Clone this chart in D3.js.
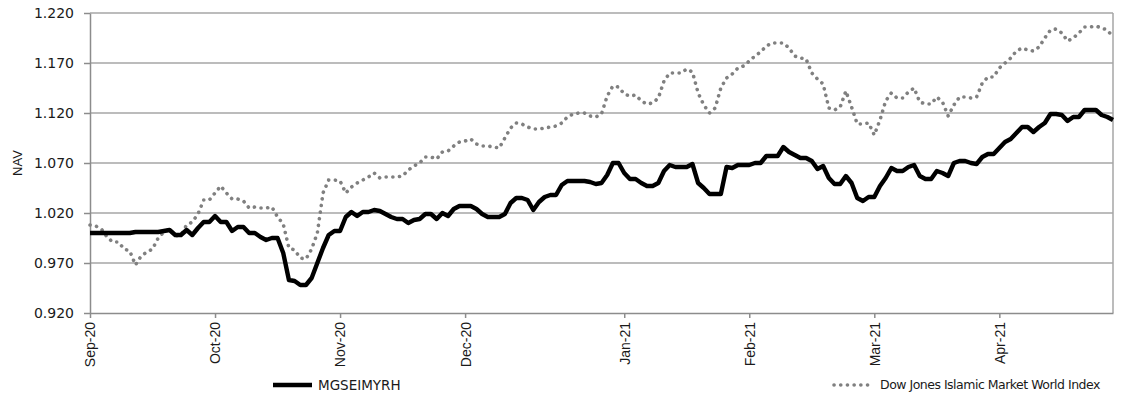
<!DOCTYPE html>
<html><head><meta charset="utf-8">
<script src="https://cdn.jsdelivr.net/npm/d3@7"></script>
<style>
html,body{margin:0;padding:0;background:#fff;}
svg{display:block;}
</style></head>
<body><svg id="chart" width="1122" height="396"></svg>
<script>
// ---- data ----
const seriesNames = ["MGSEIMYRH", "Dow Jones Islamic Market World Index"];
const fundNAV = [
1.000,1.000,1.000,1.000,1.000,1.000,1.000,1.000,1.001,1.001,
1.001,1.001,1.001,1.002,1.003,0.998,0.998,1.003,0.998,1.005,
1.011,1.011,1.017,1.011,1.011,1.002,1.006,1.006,1.000,1.000,
0.996,0.993,0.995,0.995,0.980,0.953,0.952,0.948,0.948,0.955,
0.970,0.985,0.998,1.002,1.002,1.016,1.021,1.017,1.021,1.021,
1.023,1.022,1.019,1.016,1.014,1.014,1.010,1.013,1.014,1.019,
1.019,1.014,1.020,1.017,1.024,1.027,1.027,1.027,1.024,1.019,
1.016,1.016,1.016,1.019,1.030,1.035,1.035,1.033,1.023,1.031,
1.036,1.038,1.038,1.048,1.052,1.052,1.052,1.052,1.051,1.049,
1.050,1.058,1.070,1.070,1.060,1.054,1.054,1.050,1.047,1.047,
1.050,1.062,1.068,1.066,1.066,1.066,1.069,1.050,1.045,1.039,
1.039,1.039,1.066,1.065,1.068,1.068,1.068,1.070,1.070,1.077,
1.077,1.077,1.086,1.081,1.078,1.075,1.075,1.072,1.064,1.067,
1.055,1.049,1.049,1.057,1.050,1.035,1.032,1.036,1.036,1.047,
1.055,1.065,1.062,1.062,1.066,1.068,1.057,1.054,1.054,1.062,
1.060,1.057,1.070,1.072,1.072,1.070,1.069,1.076,1.079,1.079,
1.085,1.091,1.094,1.100,1.106,1.106,1.101,1.106,1.110,1.119,
1.119,1.118,1.112,1.116,1.116,1.123,1.123,1.123,1.118,1.116,
1.113];
const indexNAV = [
1.008,1.007,1.004,0.996,0.991,0.991,0.984,0.982,0.968,0.977,
0.981,0.984,0.995,1.001,1.004,0.997,0.998,1.008,1.011,1.019,
1.033,1.033,1.040,1.047,1.040,1.034,1.034,1.032,1.025,1.026,
1.025,1.025,1.026,1.016,1.009,0.985,0.983,0.975,0.974,0.984,
1.000,1.040,1.053,1.053,1.052,1.040,1.046,1.050,1.053,1.056,
1.060,1.055,1.056,1.056,1.056,1.057,1.063,1.067,1.070,1.076,
1.076,1.074,1.081,1.082,1.087,1.091,1.092,1.094,1.089,1.087,
1.087,1.086,1.085,1.095,1.105,1.110,1.109,1.106,1.104,1.104,
1.105,1.106,1.107,1.110,1.116,1.119,1.120,1.120,1.117,1.116,
1.119,1.137,1.147,1.146,1.139,1.137,1.138,1.132,1.129,1.130,
1.135,1.152,1.160,1.160,1.160,1.164,1.161,1.140,1.128,1.120,
1.125,1.145,1.155,1.159,1.165,1.167,1.172,1.177,1.181,1.187,
1.190,1.190,1.190,1.185,1.177,1.175,1.174,1.160,1.154,1.149,
1.125,1.123,1.126,1.142,1.126,1.109,1.109,1.110,1.098,1.113,
1.132,1.140,1.135,1.135,1.141,1.145,1.131,1.129,1.129,1.136,
1.131,1.117,1.128,1.136,1.136,1.135,1.136,1.150,1.156,1.156,
1.165,1.170,1.175,1.182,1.185,1.183,1.182,1.186,1.195,1.203,
1.204,1.200,1.192,1.195,1.200,1.206,1.206,1.207,1.205,1.203,
1.196];
const monthTickIndex = [0, 22, 44, 66, 94, 116, 138, 160];
const monthTickLabels = ["Sep-20","Oct-20","Nov-20","Dec-20","Jan-21","Feb-21","Mar-21","Apr-21"];
const yTickValues = [0.920, 0.970, 1.020, 1.070, 1.120, 1.170, 1.220];
const yAxisTitle = "NAV";

// ---- layout ----
const svg = d3.select("#chart");
const L = 90, R = 1113, T = 13, B = 313;
const n = fundNAV.length;
const x = d3.scaleLinear().domain([0, n - 1]).range([L, R]);
const y = d3.scaleLinear().domain([0.92, 1.22]).range([B, T]);
const gridColor = "#a6a6a6";
const axisColor = "#8c8c8c";
const textColor = "#1a1a1a";

// gridlines
svg.append("g").selectAll("line").data(yTickValues.slice(1)).join("line")
  .attr("x1", L).attr("x2", R)
  .attr("y1", d => y(d)).attr("y2", d => y(d))
  .attr("stroke", gridColor).attr("stroke-width", 1.5);
// right border
svg.append("line").attr("x1", R).attr("x2", R).attr("y1", T).attr("y2", B)
  .attr("stroke", gridColor).attr("stroke-width", 1.5);

// y axis
const yAxis = svg.append("g").attr("transform", `translate(${L},0)`)
  .call(d3.axisLeft(y).tickValues(yTickValues).tickFormat(d3.format(".3f")).tickSize(6).tickSizeOuter(0).tickPadding(10));
yAxis.select(".domain").attr("stroke", axisColor).attr("stroke-width", 1.5);
yAxis.selectAll(".tick line").attr("stroke", axisColor).attr("stroke-width", 1.5);
yAxis.selectAll(".tick text").attr("font-family", "DejaVu Sans, Verdana, sans-serif")
  .attr("font-size", 14).attr("fill", textColor);

// x axis
const xAxis = svg.append("g").attr("transform", `translate(0,${B})`)
  .call(d3.axisBottom(x).tickValues(monthTickIndex)
    .tickFormat((d, i) => monthTickLabels[i]).tickSize(5).tickSizeOuter(0));
xAxis.select(".domain").attr("stroke", axisColor).attr("stroke-width", 1.5);
xAxis.selectAll(".tick line").attr("stroke", axisColor).attr("stroke-width", 1.5);
xAxis.selectAll(".tick text")
  .attr("font-family", "Liberation Sans Narrow, Arial Narrow, sans-serif")
  .attr("font-size", 14).attr("fill", textColor)
  .attr("text-anchor", "end")
  .attr("transform", "translate(0,9) rotate(-90)")
  .attr("x", 0).attr("y", 0).attr("dy", "0.35em");

// y title
svg.append("text").attr("transform", "translate(17,163) rotate(-90)")
  .attr("text-anchor", "middle").attr("dy", "0.35em")
  .attr("font-family", "Liberation Sans Narrow, Arial Narrow, sans-serif")
  .attr("font-size", 13).attr("fill", textColor).text(yAxisTitle);

// lines
const line = d3.line().x((d, i) => x(i)).y(d => y(d));
svg.append("path").datum(indexNAV).attr("d", line)
  .attr("fill", "none").attr("stroke", "#808080").attr("stroke-width", 3.6)
  .attr("stroke-linecap", "round").attr("stroke-dasharray", "0.1,6.6");
svg.append("path").datum(fundNAV).attr("d", line)
  .attr("fill", "none").attr("stroke", "#000").attr("stroke-width", 4.4)
  .attr("stroke-linejoin", "round");

// legend
const lg = svg.append("g");
lg.append("line").attr("x1", 273).attr("x2", 312).attr("y1", 385).attr("y2", 385)
  .attr("stroke", "#000").attr("stroke-width", 4.4);
lg.append("text").attr("x", 318).attr("y", 385).attr("dy", "0.35em")
  .attr("font-family", "DejaVu Sans, Verdana, sans-serif").attr("font-size", 13.5)
  .attr("fill", textColor).text(seriesNames[0]);
lg.append("line").attr("x1", 834).attr("x2", 873).attr("y1", 385).attr("y2", 385)
  .attr("stroke", "#808080").attr("stroke-width", 3.6)
  .attr("stroke-linecap", "round").attr("stroke-dasharray", "0.1,6.6");
lg.append("text").attr("x", 880).attr("y", 385).attr("dy", "0.35em")
  .attr("font-family", "DejaVu Sans, Verdana, sans-serif").attr("font-size", 12.5)
  .attr("letter-spacing", -0.5)
  .attr("fill", textColor).text(seriesNames[1]);
</script></body></html>
